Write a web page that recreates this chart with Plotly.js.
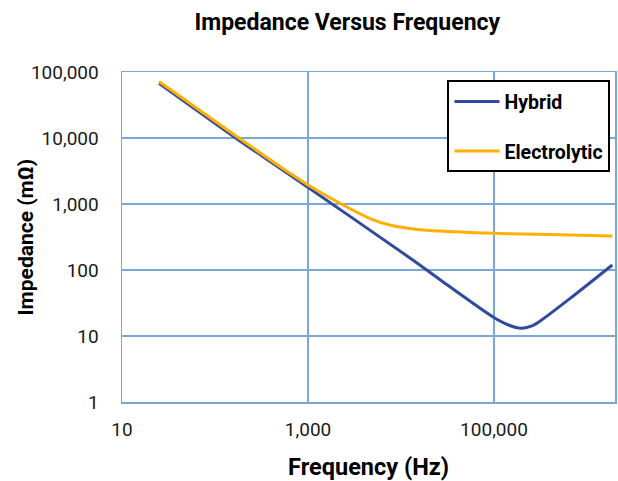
<!DOCTYPE html>
<html>
<head>
<meta charset="utf-8">
<script src="https://cdn.plot.ly/plotly-3.0.1.min.js"></script>
<style>html,body{margin:0;padding:0;background:#fff;}#chart{width:618px;height:481px;}</style>
</head>
<body>
<div id="chart"></div>
<script>
// Data
var hybridFreq = [25, 165, 640, 13400, 25900, 96600, 141000, 194500, 251000, 306000, 695000, 1870000];
var hybridZ    = [67450, 10120, 2750, 142, 72.3, 19.6, 14.8, 13.1, 14.1, 16.5, 39.4, 119];

var elecFreq = [25, 165, 640, 1000, 2200, 5000, 7550, 17200, 39200, 96600, 389000, 1870000];
var elecZ    = [71800, 10900, 2915, 1940, 1025, 573, 481, 404, 380, 360, 345, 327];

var xTickVals = [10, 1000, 100000];
var xTickText = ['10', '1,000', '100,000'];
var yTickVals = [1, 10, 100, 1000, 10000, 100000];
var yTickText = ['1', '10', '100', '1,000', '10,000', '100,000'];

var gridColor = '#7ba7d7';
var font = 'Roboto, "Noto Sans", sans-serif';

var traces = [
  {x: hybridFreq, y: hybridZ, name: 'Hybrid', type: 'scatter', mode: 'lines',
   legendgroup: 'a', line: {color: '#2f4b9e', width: 3, shape: 'spline', smoothing: 0.8}},
  {x: elecFreq, y: elecZ, name: 'Electrolytic', type: 'scatter', mode: 'lines',
   legendgroup: 'b', line: {color: '#ffb000', width: 3, shape: 'spline', smoothing: 0.8}}
];

var layout = {
  width: 618, height: 481,
  margin: {l: 121.5, r: 3, t: 72, b: 79.3, pad: 0},
  paper_bgcolor: '#fff', plot_bgcolor: '#fff',
  font: {family: font, color: '#1a1a1a'},
  showlegend: true,
  title: {text: '<b>Impedance Versus Frequency</b>', font: {family: font, size: 23, color: '#000'},
          xref: 'container', yref: 'container', x: 0.562, xanchor: 'center', y: 1 - 22/481, yanchor: 'middle'},
  xaxis: {
    type: 'log', range: [1, Math.log10(2000000)],
    tickmode: 'array', tickvals: xTickVals, ticktext: xTickText,
    showgrid: true, gridcolor: gridColor, gridwidth: 1.5,
    showline: true, linecolor: gridColor, linewidth: 1.5, mirror: true,
    ticks: '', zeroline: false,
    tickfont: {family: font, size: 19, color: '#1a1a1a'},
    ticklabelstandoff: 10,
    title: {text: '<b>Frequency (Hz)</b>', font: {family: font, size: 23.5, color: '#000'}, standoff: 18}
  },
  yaxis: {
    type: 'log', range: [0, 5],
    tickmode: 'array', tickvals: yTickVals, ticktext: yTickText,
    showgrid: true, gridcolor: gridColor, gridwidth: 1.5,
    showline: true, linecolor: gridColor, linewidth: 1.5, mirror: true,
    ticks: '', zeroline: false,
    tickfont: {family: font, size: 19, color: '#1a1a1a'},
    ticklabelstandoff: 18
  },
  annotations: [{
    text: '<b>Impedance (mΩ)</b>', textangle: -90, showarrow: false,
    xref: 'paper', yref: 'paper', x: (25 - 121.5) / 493.5, y: 0.5,
    xanchor: 'center', yanchor: 'middle',
    font: {family: font, size: 21, color: '#000'}
  }],
  legend: {
    x: (447.3 - 121.5) / 493.5, y: (401.7 - 80.7) / 329.4, xanchor: 'left', yanchor: 'top',
    bgcolor: '#fff', bordercolor: '#000', borderwidth: 2,
    font: {family: font, size: 19.5, color: '#000', weight: 'bold'},
    tracegroupgap: 21, itemwidth: 45
  }
};

Plotly.newPlot('chart', traces, layout, {displayModeBar: false, staticPlot: true});
</script>
</body>
</html>
